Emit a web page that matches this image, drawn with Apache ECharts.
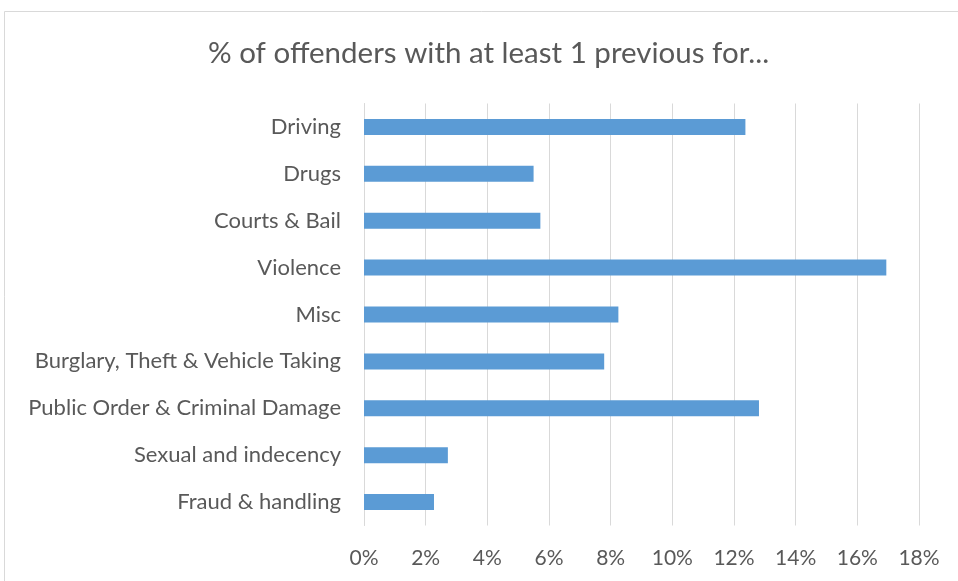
<!DOCTYPE html>
<html>
<head>
<meta charset="utf-8">
<script src="https://cdn.jsdelivr.net/npm/echarts@6/dist/echarts.min.js"></script>
<style>
html,body{margin:0;padding:0;background:#fff;}
#c{width:958px;height:581px;}
</style>
</head>
<body>
<div id="c"></div>
<script>
const titleText = "% of offenders with at least 1 previous for...";
const categories = [
  "Driving",
  "Drugs",
  "Courts & Bail",
  "Violence",
  "Misc",
  "Burglary, Theft & Vehicle Taking",
  "Public Order & Criminal Damage",
  "Sexual and indecency",
  "Fraud & handling"
];
const values = [0.1237, 0.0550, 0.0572, 0.1694, 0.0825, 0.0779, 0.1281, 0.0272, 0.0227];
const xMin = 0, xMax = 0.18, xStep = 0.02;

const chart = echarts.init(document.getElementById('c'), null, {renderer: 'canvas'});
const FONT = 'Lato';
chart.setOption({
  animation: false,
  backgroundColor: '#fff',
  graphic: [{
    type: 'rect',
    shape: {x: 4.5, y: 11.5, width: 1000, height: 1000},
    style: {fill: 'none', stroke: '#d9d9d9', lineWidth: 1}
  }],
  title: {
    text: titleText,
    left: 203,
    top: 33,
    textStyle: {fontFamily: FONT, fontSize: 29.5, fontWeight: 'normal', color: '#595959'}
  },
  grid: {left: 364, right: 39, top: 103.5, bottom: 55.5, containLabel: false},
  xAxis: {
    type: 'value',
    min: xMin, max: xMax, interval: xStep,
    axisLine: {show: false},
    axisTick: {show: false},
    splitLine: {show: true, lineStyle: {color: '#d9d9d9', width: 1}},
    axisLabel: {
      margin: 22,
      fontFamily: FONT, fontSize: 21, color: '#595959',
      formatter: v => Math.round(v * 100) + '%'
    }
  },
  yAxis: {
    type: 'category',
    data: categories,
    inverse: true,
    axisLine: {show: true, lineStyle: {color: '#d9d9d9'}},
    axisTick: {show: false},
    splitLine: {show: false},
    axisLabel: {margin: 23, fontFamily: FONT, fontSize: 22, color: '#595959'}
  },
  series: [{
    type: 'bar',
    data: values,
    barWidth: 16,
    itemStyle: {color: '#5b9bd5'}
  }]
});
</script>
</body>
</html>
